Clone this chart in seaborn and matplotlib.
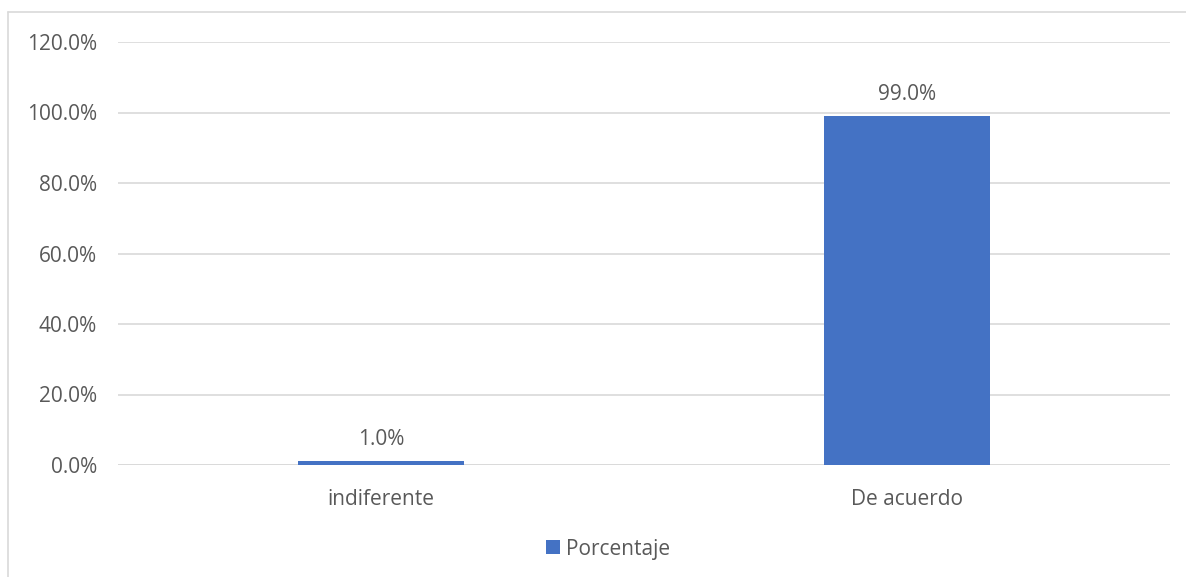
import matplotlib
matplotlib.use("Agg")
import matplotlib.pyplot as plt
from matplotlib.lines import Line2D
from matplotlib.patches import Patch
import seaborn as sns
import pandas as pd

categories = ["indiferente", "De acuerdo"]
values = [1.0, 99.0]
series_name = "Porcentaje"
y_ticks = [0, 20, 40, 60, 80, 100, 120]

BLUE = "#4472C4"
TXT = "#595959"
GRID = "#D9D9D9"
FS = 15

sns.set_theme(style="white")
plt.rcParams["font.family"] = ["Open Sans", "DejaVu Sans"]

df = pd.DataFrame({"cat": categories, "val": values, "serie": series_name})

fig = plt.figure(figsize=(11.86, 5.77), dpi=100)
ax = fig.add_axes([118 / 1186, 1 - 465 / 577, (1170 - 118) / 1186, (465 - 42) / 577])

sns.barplot(data=df, x="cat", y="val", color=BLUE, width=0.314, ax=ax,
            saturation=1, linewidth=0)

ax.set_ylim(0, 120)
ax.set_xlim(-0.5, 1.5)
ax.set_yticks(y_ticks)
ax.set_yticklabels([f"{t:.1f}%" for t in y_ticks])
ax.yaxis.grid(True, color=GRID, linewidth=1.2)
ax.set_axisbelow(True)
for s in ax.spines.values():
    s.set_visible(False)
ax.axhline(0, color=GRID, linewidth=1.2, zorder=0.5)
ax.set_xlabel("")
ax.set_ylabel("")
ax.tick_params(axis="y", length=0, pad=15, labelsize=FS, labelcolor=TXT)
ax.tick_params(axis="x", length=0, pad=17, labelsize=FS, labelcolor=TXT)

for c in ax.containers:
    ax.bar_label(c, labels=[f"{v:.1f}%" for v in values], padding=8,
                 fontsize=FS, color=TXT)

handles = [Patch(facecolor=BLUE, edgecolor="none")]
fig.legend(handles, [series_name], loc="center", bbox_to_anchor=(608 / 1186, 1 - 549 / 577),
           frameon=False, fontsize=FS, labelcolor=TXT, handlelength=0.65, handleheight=0.65,
           handletextpad=0.3)

# chart border (left and top visible)
fig.add_artist(Line2D([8 / 1186, 8 / 1186], [0, 1 - 12 / 577], color=GRID, linewidth=1.2,
                      transform=fig.transFigure))
fig.add_artist(Line2D([8 / 1186, 1], [1 - 12 / 577, 1 - 12 / 577], color=GRID, linewidth=1.2,
                      transform=fig.transFigure))

fig.savefig("out.png", dpi=100)
